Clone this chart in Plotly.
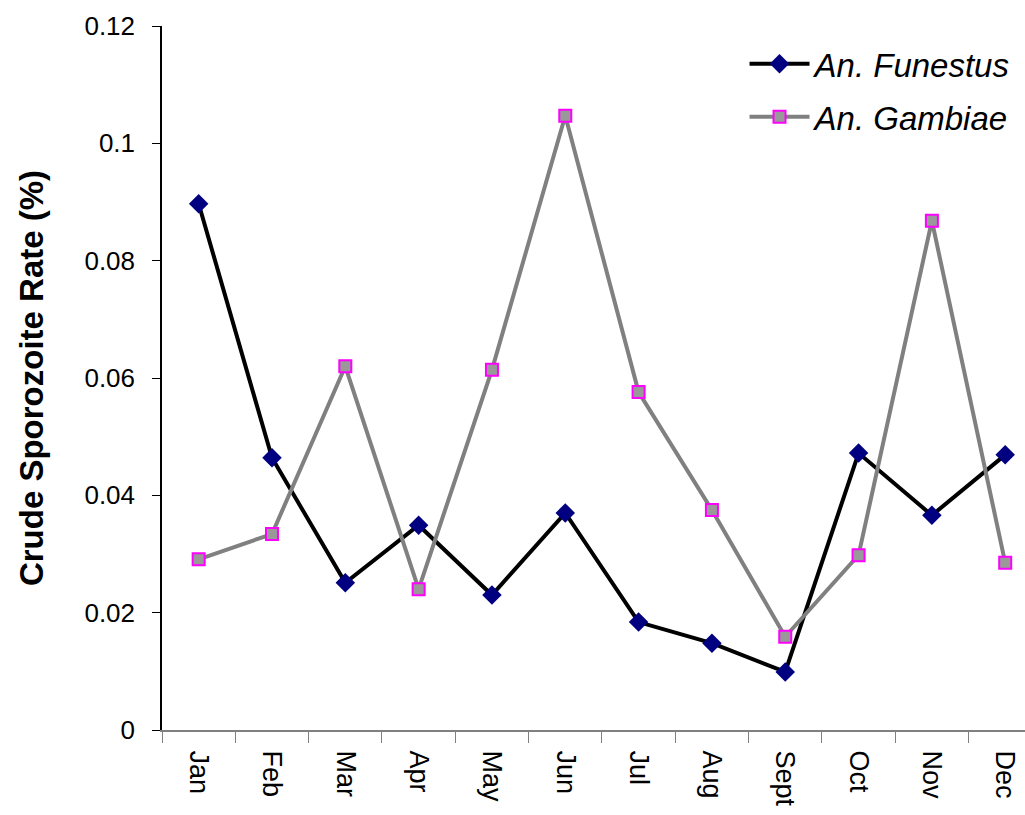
import plotly.graph_objects as go

months = ["Jan", "Feb", "Mar", "Apr", "May", "Jun", "Jul", "Aug", "Sept", "Oct", "Nov", "Dec"]
funestus = [0.0897, 0.0464, 0.0251, 0.0349, 0.0230, 0.0370, 0.0184, 0.0148, 0.0099, 0.0472, 0.0366, 0.0469]
gambiae = [0.0291, 0.0334, 0.0620, 0.0240, 0.0614, 0.1047, 0.0576, 0.0375, 0.0159, 0.0298, 0.0868, 0.0285]
y_ticks = [0, 0.02, 0.04, 0.06, 0.08, 0.1, 0.12]

fig = go.Figure()
fig.add_trace(go.Scatter(
    x=months, y=funestus, name="<i>An. Funestus</i>", mode="lines+markers",
    legendgroup="f",
    line=dict(color="black", width=4),
    marker=dict(symbol="diamond", size=15, color="#000080", line=dict(width=0)),
))
fig.add_trace(go.Scatter(
    x=months, y=gambiae, name="<i>An. Gambiae</i>", mode="lines+markers",
    legendgroup="g",
    line=dict(color="#808080", width=4),
    marker=dict(symbol="square", size=12, color="#999999", line=dict(color="#FF00FF", width=2)),
))

fig.update_layout(
    width=1025, height=815,
    margin=dict(l=162, r=0, t=26, b=85),
    paper_bgcolor="white", plot_bgcolor="white",
    font=dict(family="Liberation Sans, Arial, sans-serif", size=26, color="black"),
    showlegend=True,
    legend=dict(x=0.675, y=0.986, xanchor="left", yanchor="top",
                font=dict(size=33), bgcolor="rgba(0,0,0,0)",
                itemwidth=60, traceorder="grouped", tracegroupgap=7),
    xaxis=dict(
        type="category", range=[-0.5, 11.27], automargin=False,
        showline=True, linecolor="#808080", linewidth=2,
        ticks="outside", tickson="boundaries", ticklen=11, tickcolor="#808080",
        tickangle=90, showgrid=False, zeroline=False,
        tickfont=dict(size=27), ticklabelstandoff=13,
    ),
    yaxis=dict(
        range=[0, 0.12], tickvals=y_ticks, ticktext=[f"{v:g}" for v in y_ticks],
        automargin=False,
        showline=True, linecolor="black", linewidth=1.5,
        ticks="outside", ticklen=8, tickcolor="black",
        showgrid=False, zeroline=False,
        tickfont=dict(size=26), ticklabelstandoff=12,
        title=dict(text="<b>Crude Sporozoite Rate (%)</b>", font=dict(size=33), standoff=31),
    ),
)

fig.write_html("out.html", config={"displayModeBar": False},
               post_script="document.body.style.margin='0';")
